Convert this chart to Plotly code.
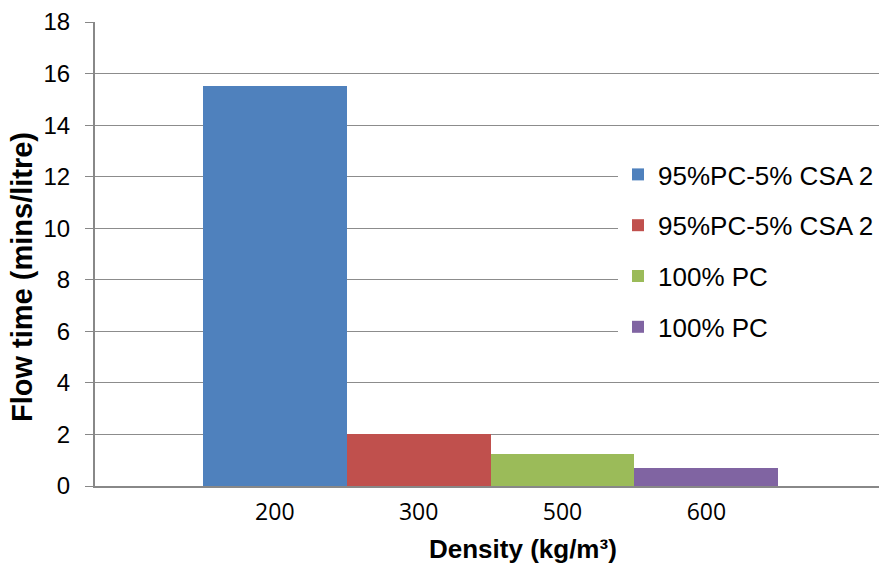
import plotly.graph_objects as go

categories = ["200", "300", "500", "600"]
series_names = ["95%PC-5% CSA 2", "95%PC-5% CSA 2", "100% PC", "100% PC"]
values = [15.5, 2.0, 1.25, 0.7]
colors = ["#4F81BD", "#C0504D", "#9BBB59", "#8064A2"]

fig = go.Figure()
for i, (cat, name, val, col) in enumerate(zip(categories, series_names, values, colors)):
    fig.add_trace(go.Bar(
        x=[cat], y=[val], name=name, width=1.0,
        marker=dict(color=col, line=dict(width=0)),
        legendgroup=f"g{i}",
    ))

plot_w = 879 - 95
plot_h = 564 - 22 - 78

fig.update_layout(
    width=879, height=564,
    margin=dict(l=95, r=0, t=22, b=78),
    paper_bgcolor="white", plot_bgcolor="white",
    barmode="overlay",
    bargap=0,
    font=dict(family="Liberation Sans, Arial", color="#000000"),
    showlegend=True,
    legend=dict(
        x=(618 - 95) / plot_w, y=(486 - 151) / plot_h, xanchor="left", yanchor="top",
        bgcolor="white",
        font=dict(size=26, family="Liberation Sans, Arial"),
        traceorder="grouped", tracegroupgap=14,
        itemwidth=30,
    ),
    xaxis=dict(
        type="category",
        categoryorder="array", categoryarray=categories,
        range=[-1.25, 4.2],
        showgrid=False,
        showline=True, linecolor="#888888", linewidth=2,
        ticks="",
        tickfont=dict(size=23, family="Open Sans"),
        ticklabelstandoff=4,
        zeroline=False,
    ),
    yaxis=dict(
        range=[0, 18], dtick=2,
        showgrid=True, gridcolor="#8C8C8C", gridwidth=1,
        showline=True, linecolor="#888888", linewidth=2,
        ticks="outside", ticklen=8, tickcolor="#888888", tickwidth=1,
        tickfont=dict(size=24, family="Liberation Sans, Arial"),
        ticklabelstandoff=10,
        zeroline=False,
    ),
    annotations=[
        dict(text="<b>Density (kg/m³)</b>", x=(523 - 95) / plot_w, y=(486 - 549) / plot_h,
             xref="paper", yref="paper", xanchor="center", yanchor="middle",
             showarrow=False, font=dict(size=26)),
        dict(text="<b>Flow time (mins/litre)</b>", x=(22 - 95) / plot_w, y=(486 - 277) / plot_h,
             textangle=-90, xref="paper", yref="paper", xanchor="center", yanchor="middle",
             showarrow=False, font=dict(size=29)),
    ],
)

fig.write_html("out.html")
